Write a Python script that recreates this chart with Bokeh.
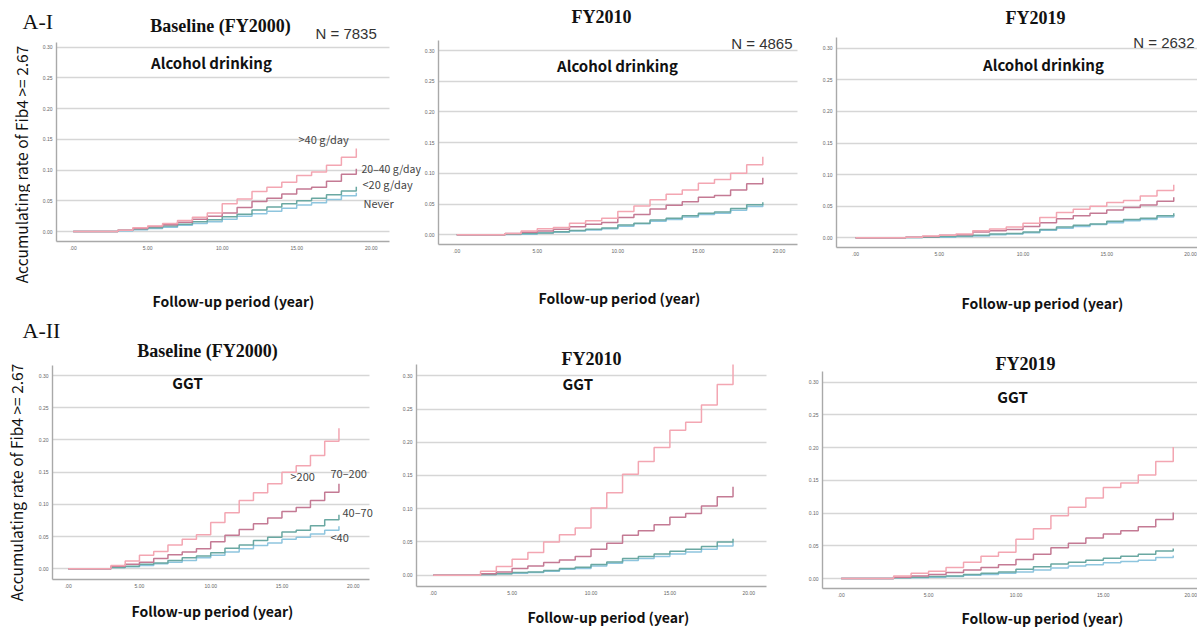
import math
from bokeh.plotting import figure
from bokeh.layouts import column, row
from bokeh.models import Label, FixedTicker
from bokeh.embed import file_html
from bokeh.resources import INLINE

# ---------------- data ----------------
YEARS = [0, 3, 4, 5, 6, 7, 8, 9, 10, 11, 12, 13, 14, 15, 16, 17, 18, 19]
X_TICKS = [0, 5, 10, 15, 20]
X_TICK_LABELS = [".00", "5.00", "10.00", "15.00", "20.00"]
Y_TICKS = [0.0, 0.05, 0.10, 0.15, 0.20, 0.25, 0.30]
Y_TICK_LABELS = ["0.00", "0.05", "0.10", "0.15", "0.20", "0.25", "0.30"]

ALC_GROUPS = ["Never", "<20 g/day", "20\u201340 g/day", ">40 g/day"]
GGT_GROUPS = ["<40", "40\u201370", "70\u2013200", ">200"]

# Alcohol drinking, Baseline (FY2000)   values at years 3..19
a0_never = [0.001, 0.003, 0.005, 0.007, 0.010, 0.013, 0.016, 0.020, 0.025, 0.029, 0.033, 0.038, 0.043, 0.047, 0.052, 0.058, 0.063]
a0_lt20 = [0.002, 0.004, 0.006, 0.009, 0.012, 0.016, 0.019, 0.024, 0.028, 0.035, 0.040, 0.045, 0.050, 0.054, 0.060, 0.066, 0.073]
a0_2040 = [0.002, 0.005, 0.008, 0.011, 0.015, 0.020, 0.025, 0.030, 0.039, 0.049, 0.054, 0.061, 0.069, 0.072, 0.082, 0.093, 0.102]
a0_gt40 = [0.002, 0.006, 0.009, 0.013, 0.018, 0.023, 0.030, 0.045, 0.053, 0.065, 0.072, 0.080, 0.091, 0.097, 0.108, 0.121, 0.135]

# Alcohol drinking, FY2010
a1_never = [0.0005, 0.001, 0.003, 0.004, 0.006, 0.008, 0.010, 0.014, 0.018, 0.022, 0.025, 0.029, 0.033, 0.035, 0.040, 0.046, 0.050]
a1_lt20 = [0.001, 0.002, 0.003, 0.005, 0.007, 0.009, 0.011, 0.016, 0.019, 0.024, 0.027, 0.031, 0.035, 0.037, 0.043, 0.049, 0.053]
a1_2040 = [0.002, 0.004, 0.006, 0.009, 0.013, 0.017, 0.020, 0.028, 0.033, 0.042, 0.048, 0.054, 0.061, 0.064, 0.073, 0.083, 0.093]
a1_gt40 = [0.002, 0.006, 0.010, 0.012, 0.019, 0.023, 0.027, 0.038, 0.047, 0.057, 0.066, 0.073, 0.084, 0.090, 0.100, 0.114, 0.127]

# Alcohol drinking, FY2019
a2_never = [0.0005, 0.001, 0.001, 0.002, 0.003, 0.005, 0.006, 0.008, 0.012, 0.015, 0.018, 0.021, 0.024, 0.027, 0.029, 0.033, 0.036]
a2_lt20 = [0.0005, 0.001, 0.002, 0.003, 0.004, 0.006, 0.007, 0.009, 0.013, 0.017, 0.020, 0.022, 0.026, 0.029, 0.031, 0.035, 0.039]
a2_2040 = [0.001, 0.002, 0.004, 0.005, 0.009, 0.011, 0.013, 0.018, 0.024, 0.030, 0.035, 0.039, 0.044, 0.048, 0.052, 0.058, 0.064]
a2_gt40 = [0.001, 0.003, 0.004, 0.006, 0.011, 0.014, 0.017, 0.023, 0.032, 0.040, 0.045, 0.050, 0.056, 0.059, 0.066, 0.075, 0.084]

# GGT, Baseline (FY2000)
g0_lt40 = [0.002, 0.003, 0.005, 0.008, 0.010, 0.013, 0.017, 0.021, 0.026, 0.031, 0.036, 0.040, 0.046, 0.049, 0.054, 0.060, 0.066]
g0_4070 = [0.002, 0.004, 0.007, 0.009, 0.013, 0.017, 0.020, 0.025, 0.032, 0.037, 0.044, 0.049, 0.057, 0.060, 0.067, 0.076, 0.084]
g0_70200 = [0.004, 0.007, 0.010, 0.016, 0.022, 0.026, 0.031, 0.042, 0.052, 0.061, 0.070, 0.079, 0.089, 0.095, 0.106, 0.119, 0.132]
g0_gt200 = [0.005, 0.012, 0.021, 0.027, 0.037, 0.046, 0.053, 0.072, 0.087, 0.106, 0.118, 0.132, 0.150, 0.160, 0.176, 0.198, 0.218]

# GGT, FY2010
g1_lt40 = [0.001, 0.002, 0.003, 0.004, 0.006, 0.009, 0.010, 0.014, 0.018, 0.022, 0.025, 0.028, 0.032, 0.035, 0.039, 0.044, 0.050]
g1_4070 = [0.001, 0.002, 0.004, 0.005, 0.007, 0.010, 0.012, 0.016, 0.020, 0.025, 0.028, 0.032, 0.036, 0.039, 0.043, 0.050, 0.055]
g1_70200 = [0.002, 0.005, 0.010, 0.014, 0.019, 0.023, 0.028, 0.039, 0.048, 0.060, 0.067, 0.076, 0.087, 0.093, 0.104, 0.118, 0.133]
g1_gt200 = [0.006, 0.013, 0.024, 0.034, 0.050, 0.061, 0.071, 0.101, 0.124, 0.152, 0.171, 0.192, 0.218, 0.230, 0.256, 0.287, 0.317]

# GGT, FY2019
g2_lt40 = [0.001, 0.001, 0.002, 0.003, 0.005, 0.006, 0.008, 0.010, 0.013, 0.016, 0.019, 0.021, 0.024, 0.026, 0.028, 0.032, 0.035]
g2_4070 = [0.001, 0.002, 0.003, 0.004, 0.006, 0.008, 0.010, 0.014, 0.018, 0.022, 0.025, 0.028, 0.031, 0.034, 0.037, 0.042, 0.046]
g2_70200 = [0.002, 0.004, 0.006, 0.009, 0.013, 0.017, 0.021, 0.029, 0.037, 0.047, 0.054, 0.062, 0.068, 0.073, 0.079, 0.090, 0.101]
g2_gt200 = [0.004, 0.008, 0.011, 0.017, 0.025, 0.034, 0.040, 0.060, 0.076, 0.096, 0.109, 0.123, 0.139, 0.146, 0.158, 0.179, 0.201]

# ---------------- styles ----------------
COLORS = ["#8ec5de", "#6aa8a2", "#c47a94", "#f3a6b2"]   # lowest -> highest group
SANS = "Noto Sans CJK JP"
SERIF = "Liberation Serif"
NFONT = "Liberation Sans"
YLAB = "Accumulating rate of Fib4 >= 2.67"
XLAB = "Follow-up period (year)"


class Box:
    """A figure placed at canvas box (x0, y0)-(x1, y1); frame = inner box."""
    def __init__(self, fig_box, frame_box=None):
        self.x0, self.y0, self.x1, self.y1 = fig_box
        self.fx0, self.fy0, self.fx1, self.fy1 = frame_box if frame_box else fig_box


def strip(b):
    p = figure(width=b.x1 - b.x0, height=b.y1 - b.y0, x_range=(0, 1), y_range=(0, 1),
               x_axis_location=None, y_axis_location=None,
               output_backend="svg", toolbar_location=None,
               min_border_left=b.fx0 - b.x0, min_border_right=b.x1 - b.fx1,
               min_border_top=b.fy0 - b.y0, min_border_bottom=b.y1 - b.fy1)
    p.outline_line_color = None
    p.grid.visible = False
    p.background_fill_color = "white"
    p.border_fill_color = "white"
    return p


def panel(b, x0px, xs, y0px, ys, axis_right, axis_top, series):
    """x0px: pixel of year 0, xs: px per year; y0px: pixel of rate 0, ys: px per unit."""
    xr = ((b.fx0 - x0px) / xs, (b.fx1 - x0px) / xs)
    yr = ((y0px - b.fy1) / ys, (y0px - b.fy0) / ys)
    p = figure(width=b.x1 - b.x0, height=b.y1 - b.y0, x_range=xr, y_range=yr,
               output_backend="svg", toolbar_location=None,
               min_border_left=b.fx0 - b.x0, min_border_top=b.fy0 - b.y0,
               min_border_right=b.x1 - b.fx1, min_border_bottom=b.y1 - b.fy1)
    p.outline_line_color = None
    p.background_fill_color = "white"
    p.border_fill_color = "white"
    p.xgrid.grid_line_color = None
    p.ygrid.grid_line_color = "#d6d6d6"
    p.ygrid.grid_line_width = 1.3
    p.ygrid.ticker = FixedTicker(ticks=Y_TICKS)
    try:
        p.ygrid[0].cross_bounds = (xr[0], (axis_right - x0px) / xs)
    except Exception:
        pass
    p.xaxis.ticker = FixedTicker(ticks=X_TICKS)
    p.xaxis.major_label_overrides = dict(zip(X_TICKS, X_TICK_LABELS))
    p.yaxis.ticker = FixedTicker(ticks=Y_TICKS)
    p.yaxis.major_label_overrides = dict(zip(Y_TICKS, Y_TICK_LABELS))
    p.xaxis.bounds = (xr[0], min(xr[1], (axis_right - x0px) / xs))
    p.yaxis.bounds = (yr[0], min(yr[1], (y0px - axis_top) / ys))
    for ax in (p.xaxis, p.yaxis):
        ax.axis_line_color = "#a9a9a9"
        ax.axis_line_width = 1.4
        ax.major_tick_line_color = None
        ax.minor_tick_line_color = None
        ax.major_tick_out = 0
        ax.major_tick_in = 0
        ax.major_label_text_font = "Liberation Sans"
        ax.major_label_text_font_size = "5px"
        ax.major_label_text_color = "#666666"
    p.xaxis.major_label_standoff = 4
    p.yaxis.major_label_standoff = 4
    for vals, col in zip(series, COLORS):
        p.step(YEARS, [0.0] + vals, mode="after", line_color=col, line_width=1.5)
    return p


def txt(p, b, text, cx, cy, size, font=SANS, style="normal", align="center",
        color="#111111", angle=0.0):
    p.add_layout(Label(x=cx - b.fx0, y=b.fy1 - cy, x_units="screen", y_units="screen",
                       text=text, text_font=font, text_font_size=size,
                       text_font_style=style, text_align=align, text_baseline="middle",
                       text_color=color, angle=angle))


# ---------------- boxes (canvas pixels) ----------------
B_h1 = Box((0, 0, 421, 42))
B_l1 = Box((0, 42, 30, 313))
B_p1 = Box((30, 42, 421, 260), (56, 42, 421, 241))
B_f1 = Box((30, 260, 421, 313), (56, 260, 421, 313))
B_p2 = Box((421, 0, 800, 265), (436, 0, 800, 244))
B_f2 = Box((421, 265, 800, 313), (436, 265, 800, 313))
B_p3 = Box((800, 0, 1197, 268), (836, 0, 1197, 247))
B_f3 = Box((800, 268, 1197, 313), (836, 268, 1197, 313))
B_h4 = Box((0, 313, 385, 362))
B_l4 = Box((0, 362, 28, 629))
B_p4 = Box((28, 362, 385, 593), (52, 362, 385, 579))
B_f4 = Box((28, 593, 385, 629), (52, 593, 385, 629))
B_p5 = Box((385, 313, 790, 600), (416, 313, 790, 586))
B_f5 = Box((385, 600, 790, 629), (416, 600, 790, 629))
B_p6 = Box((790, 313, 1197, 602), (822, 313, 1197, 588))
B_f6 = Box((790, 602, 1197, 629), (822, 602, 1197, 629))

p1 = panel(B_p1, 72.7, 14.9, 231.0, 614.3, 389, 36.7, [a0_never, a0_lt20, a0_2040, a0_gt40])
p2 = panel(B_p2, 454.3, 16.2, 234.3, 614.3, 797, 40.0, [a1_never, a1_lt20, a1_2040, a1_gt40])
p3 = panel(B_p3, 855.0, 16.75, 237.3, 632.0, 1197, 36.7, [a2_never, a2_lt20, a2_2040, a2_gt40])
p4 = panel(B_p4, 67.7, 14.25, 568.3, 644.3, 369, 365.0, [g0_lt40, g0_4070, g0_70200, g0_gt200])
p5 = panel(B_p5, 432.7, 15.78, 574.7, 664.7, 766, 364.3, [g1_lt40, g1_4070, g1_70200, g1_gt200])
p6 = panel(B_p6, 840.7, 17.475, 578.0, 654.3, 1197, 371.0, [g2_lt40, g2_4070, g2_70200, g2_gt200])

h1, l1, f1, f2, f3 = strip(B_h1), strip(B_l1), strip(B_f1), strip(B_f2), strip(B_f3)
h4, l4, f4, f5, f6 = strip(B_h4), strip(B_l4), strip(B_f4), strip(B_f5), strip(B_f6)

LAB = "#444444"
TS = "18px"     # serif panel titles
XS = "14px"     # x axis titles
YS = "15.5px"   # y axis titles
# ---- A-I, baseline
txt(h1, B_h1, "A-I", 22, 20.5, "22px", font=SERIF, align="left")
txt(h1, B_h1, "Baseline (FY2000)", 220, 25, TS, font=SERIF, style="bold")
txt(h1, B_h1, "N = 7835", 315, 32.5, "15px", font=NFONT, align="left", color="#333333")
txt(l1, B_l1, YLAB, 20, 164, YS, angle=math.pi / 2)
txt(p1, B_p1, "Alcohol drinking", 211, 62, "15px", style="bold")
txt(p1, B_p1, ALC_GROUPS[3], 298, 138, "11px", align="left", color=LAB)
txt(p1, B_p1, ALC_GROUPS[2], 361, 168, "10.5px", align="left", color=LAB)
txt(p1, B_p1, ALC_GROUPS[1], 362, 183, "11px", align="left", color=LAB)
txt(p1, B_p1, ALC_GROUPS[0], 363, 202, "11px", align="left", color=LAB)
txt(f1, B_f1, XLAB, 233, 300, XS, style="bold")

# ---- A-I, FY2010
txt(p2, B_p2, "FY2010", 599, 16, TS, font=SERIF, style="bold")
txt(p2, B_p2, "N = 4865", 790, 43, "15px", font=NFONT, align="right", color="#333333")
txt(p2, B_p2, "Alcohol drinking", 615, 65, "15px", style="bold")
txt(f2, B_f2, XLAB, 617, 297, XS, style="bold")

# ---- A-I, FY2019
txt(p3, B_p3, "FY2019", 1035, 17, TS, font=SERIF, style="bold")
txt(p3, B_p3, "N = 2632", 1194, 42, "15px", font=NFONT, align="right", color="#333333")
txt(p3, B_p3, "Alcohol drinking", 1043, 64, "15px", style="bold")
txt(f3, B_f3, XLAB, 1042, 302, XS, style="bold")

# ---- A-II, baseline
txt(h4, B_h4, "A-II", 22, 330, "22px", font=SERIF, align="left")
txt(h4, B_h4, "Baseline (FY2000)", 207, 350, TS, font=SERIF, style="bold")
txt(l4, B_l4, YLAB, 15, 482, YS, angle=math.pi / 2)
txt(p4, B_p4, "GGT", 187, 382, "15px", style="bold")
txt(p4, B_p4, GGT_GROUPS[3], 290, 475, "11px", align="left", color=LAB)
txt(p4, B_p4, GGT_GROUPS[2], 330, 472, "11px", align="left", color=LAB)
txt(p4, B_p4, GGT_GROUPS[1], 342, 511, "11px", align="left", color=LAB)
txt(p4, B_p4, GGT_GROUPS[0], 330, 536, "11px", align="left", color=LAB)
txt(f4, B_f4, XLAB, 212, 610, XS, style="bold")

# ---- A-II, FY2010
txt(p5, B_p5, "FY2010", 591, 358, TS, font=SERIF, style="bold")
txt(p5, B_p5, "GGT", 562, 383, "15px", style="bold", align="left")
txt(f5, B_f5, XLAB, 608, 616, XS, style="bold")

# ---- A-II, FY2019
txt(p6, B_p6, "FY2019", 1025, 363, TS, font=SERIF, style="bold")
txt(p6, B_p6, "GGT", 1012, 396, "15px", style="bold")
txt(f6, B_f6, XLAB, 1042, 617, XS, style="bold")

top = row(column(h1, row(l1, column(p1, f1))), column(p2, f2), column(p3, f3))
bottom = row(column(h4, row(l4, column(p4, f4))), column(p5, f5), column(p6, f6))
layout = column(top, bottom)
open("out.html", "w").write(file_html(layout, INLINE))
